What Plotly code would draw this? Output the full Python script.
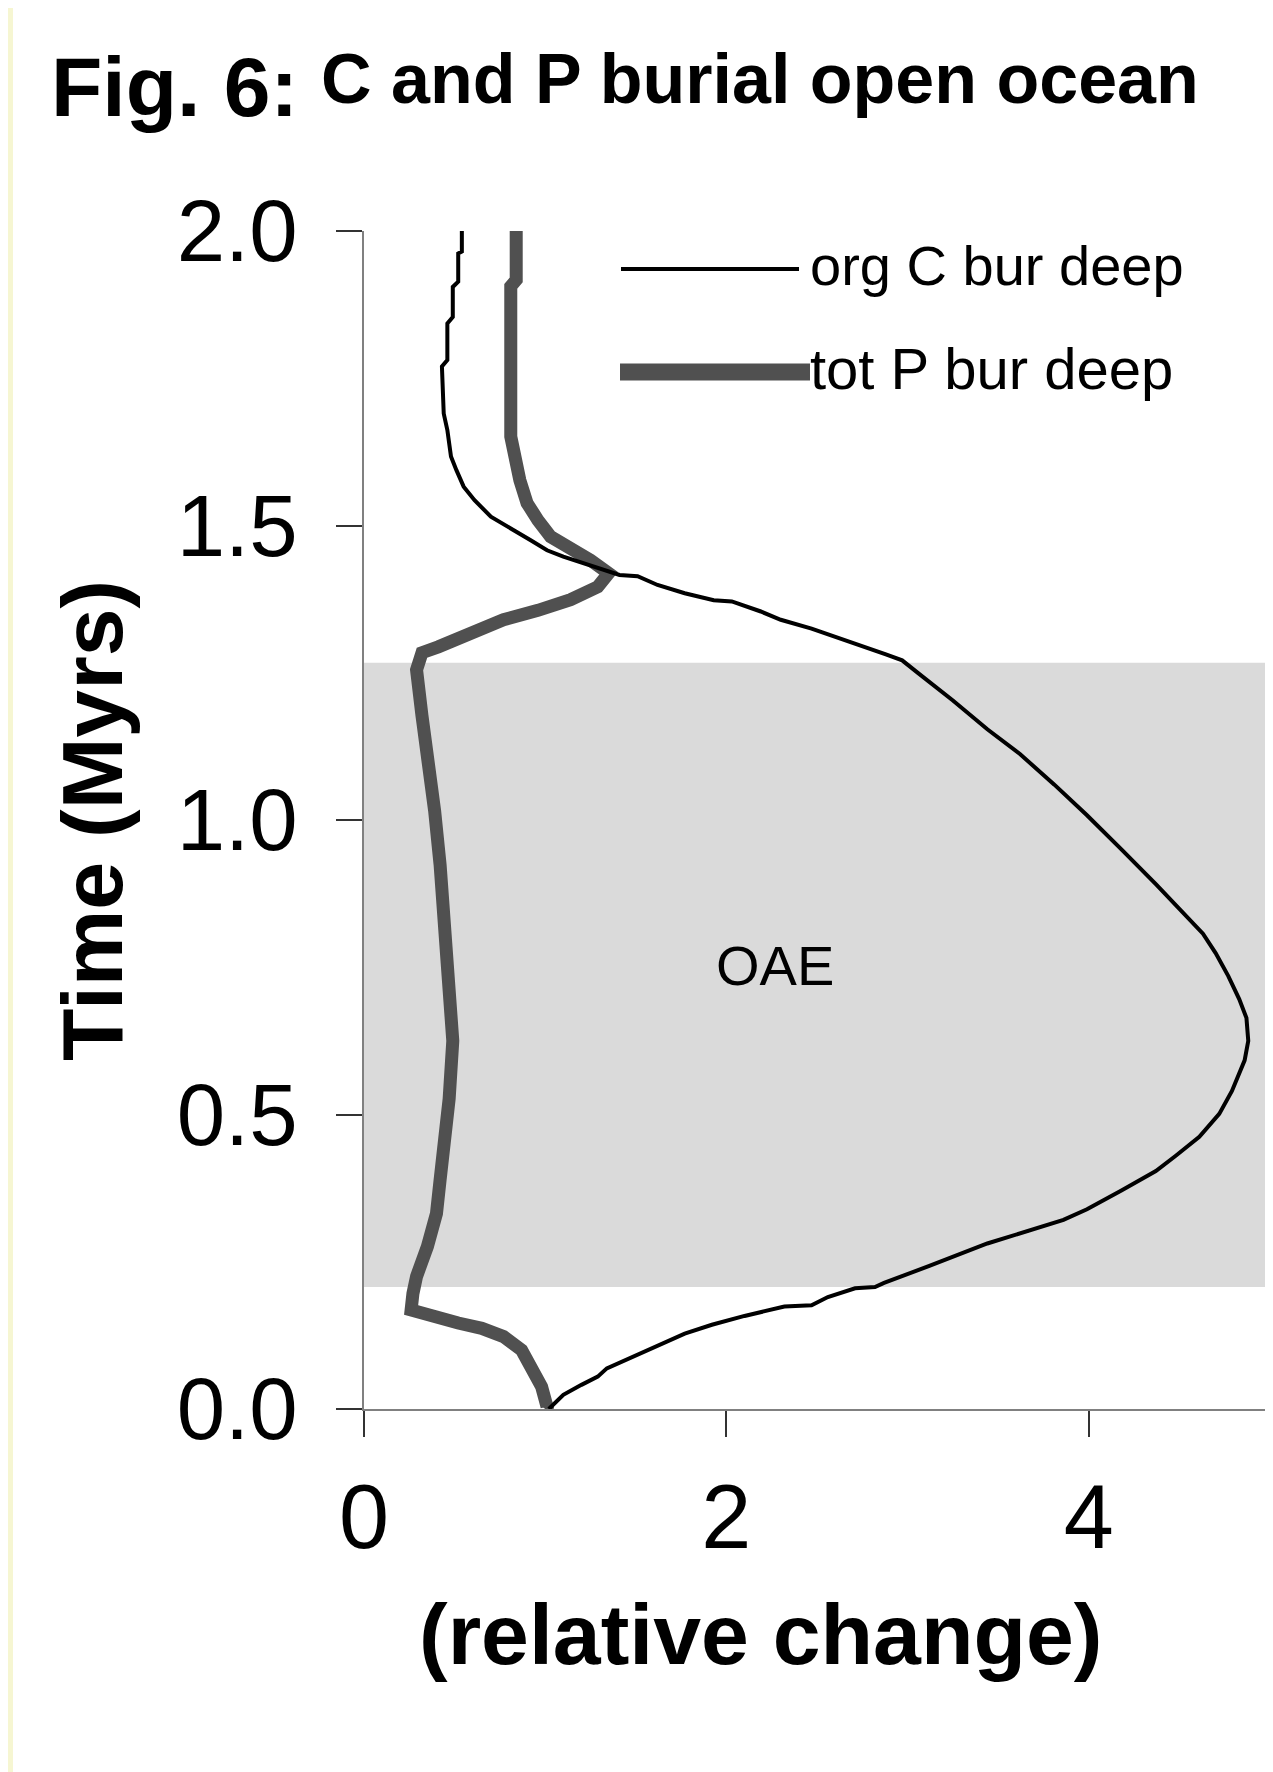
import plotly.graph_objects as go

# ---- data ----
orgC_time = [0.000, 0.024, 0.041, 0.055, 0.069, 0.083, 0.099, 0.114, 0.128, 0.143,
             0.158, 0.174, 0.176, 0.190, 0.205, 0.207, 0.214, 0.243, 0.281, 0.321,
             0.339, 0.371, 0.404, 0.430, 0.462, 0.501, 0.540, 0.592, 0.625, 0.664,
             0.696, 0.735, 0.774, 0.807, 0.846, 0.891, 0.950, 1.008, 1.060, 1.112,
             1.154, 1.203, 1.249, 1.271, 1.281, 1.295, 1.310, 1.325, 1.340, 1.354,
             1.371, 1.373, 1.385, 1.399, 1.414, 1.416, 1.447, 1.458, 1.475, 1.492,
             1.504, 1.515, 1.543, 1.566, 1.594, 1.617, 1.662, 1.690, 1.770, 1.781,
             1.843, 1.854, 1.905, 1.914, 1.962, 1.965, 2.000]
orgC_value = [1.02, 1.10, 1.20, 1.29, 1.34, 1.44, 1.55, 1.66, 1.77, 1.92,
              2.10, 2.32, 2.47, 2.56, 2.71, 2.82, 2.87, 3.12, 3.44, 3.86,
              3.99, 4.18, 4.37, 4.48, 4.61, 4.72, 4.79, 4.86, 4.88, 4.87,
              4.83, 4.77, 4.70, 4.63, 4.51, 4.37, 4.18, 3.99, 3.81, 3.62,
              3.44, 3.25, 3.06, 2.97, 2.88, 2.75, 2.62, 2.47, 2.30, 2.19,
              2.03, 1.93, 1.77, 1.62, 1.51, 1.41, 1.10, 1.01, 0.92, 0.83,
              0.76, 0.70, 0.61, 0.55, 0.51, 0.48, 0.46, 0.44, 0.43, 0.46,
              0.46, 0.49, 0.49, 0.52, 0.52, 0.54, 0.54]

totP_time = [0.000, 0.004, 0.038, 0.072, 0.100, 0.123, 0.137, 0.146, 0.157, 0.168,
             0.196, 0.225, 0.276, 0.332, 0.389, 0.430, 0.527, 0.625, 0.722, 0.833,
             0.924, 1.015, 1.093, 1.177, 1.255, 1.284, 1.294, 1.310, 1.325, 1.340,
             1.356, 1.374, 1.396, 1.419, 1.441, 1.458, 1.481, 1.509, 1.538, 1.577,
             1.623, 1.651, 1.906, 1.917, 2.000]
totP_value = [1.00, 1.01, 0.98, 0.92, 0.87, 0.77, 0.65, 0.52, 0.37, 0.26,
              0.27, 0.29, 0.35, 0.40, 0.42, 0.44, 0.47, 0.49, 0.47, 0.45,
              0.42, 0.39, 0.35, 0.32, 0.29, 0.32, 0.41, 0.55, 0.63, 0.77,
              0.96, 1.14, 1.29, 1.35, 1.25, 1.14, 1.03, 0.96, 0.90, 0.86,
              0.84, 0.81, 0.81, 0.84, 0.84]

oae_start, oae_end = 0.207, 1.267
x_ticks = [0, 2, 4]
y_ticks = [0.0, 0.5, 1.0, 1.5, 2.0]
series_names = ["org C bur deep", "tot P bur deep"]

# ---- layout geometry (pixels) ----
W, H = 1273, 1772
L, R, T, B = 356, 4, 223, 371
PW, PH = W - L - R, H - T - B
XUNIT = 181.2
FONT = "Liberation Sans, Arial, Helvetica, sans-serif"


def px(xp):
    return (xp - L) / PW


def py(yp):
    return (H - B - yp) / PH


fig = go.Figure()
fig.add_trace(go.Scatter(x=totP_value, y=totP_time, mode="lines", name=series_names[1],
                         line=dict(color="#505050", width=13), showlegend=False))
fig.add_trace(go.Scatter(x=orgC_value, y=orgC_time, mode="lines", name=series_names[0],
                         line=dict(color="#000000", width=4), showlegend=False))

shapes = [
    dict(type="rect", xref="paper", yref="y", x0=0.0, x1=1.0, y0=oae_start, y1=oae_end,
         fillcolor="#dadada", line=dict(width=0), layer="below"),
    # legend symbols
    dict(type="line", xref="paper", yref="paper", x0=px(613), x1=px(791), y0=py(261), y1=py(261),
         line=dict(color="#000000", width=4)),
    dict(type="line", xref="paper", yref="paper", x0=px(612), x1=px(802), y0=py(364), y1=py(364),
         line=dict(color="#505050", width=17)),
    # yellowish slide edge on the left
    dict(type="rect", xref="paper", yref="paper", x0=px(0), x1=px(5), y0=py(H), y1=py(0),
         fillcolor="#f6f6d2", line=dict(width=0)),
]

annotations = [
    dict(text="<b>Fig. 6:</b>", x=px(41), y=py(79), xref="paper", yref="paper",
         xanchor="left", yanchor="middle", showarrow=False,
         font=dict(family=FONT, size=84, color="black")),
    dict(text="<b>C and P burial open ocean</b>", x=px(311), y=py(71), xref="paper", yref="paper",
         xanchor="left", yanchor="middle", showarrow=False,
         font=dict(family=FONT, size=70, color="black")),
    dict(text=series_names[0], x=px(800), y=py(257), xref="paper", yref="paper",
         xanchor="left", yanchor="middle", showarrow=False,
         font=dict(family=FONT, size=56, color="black")),
    dict(text=series_names[1], x=px(800), y=py(360), xref="paper", yref="paper",
         xanchor="left", yanchor="middle", showarrow=False,
         font=dict(family=FONT, size=58, color="black")),
    dict(text="OAE", x=px(767), y=py(958), xref="paper", yref="paper",
         xanchor="center", yanchor="middle", showarrow=False,
         font=dict(family=FONT, size=56, color="black")),
    dict(text="<b>Time (Myrs)</b>", x=px(84), y=py(813), xref="paper", yref="paper",
         xanchor="center", yanchor="middle", showarrow=False, textangle=-90,
         font=dict(family=FONT, size=86, color="black")),
    dict(text="<b>(relative change)</b>", x=px(752), y=py(1626), xref="paper", yref="paper",
         xanchor="center", yanchor="middle", showarrow=False,
         font=dict(family=FONT, size=86, color="black")),
]

fig.update_layout(
    width=W, height=H,
    margin=dict(l=L, r=R, t=T, b=B, pad=0),
    paper_bgcolor="white", plot_bgcolor="white",
    showlegend=False,
    shapes=shapes, annotations=annotations,
    xaxis=dict(range=[0, PW / XUNIT], tickvals=x_ticks, ticktext=[str(v) for v in x_ticks],
               showline=True, linecolor="#808080", linewidth=2,
               ticks="outside", ticklen=26, tickwidth=1.5, tickcolor="#333333",
               showgrid=False, zeroline=False, ticklabelstandoff=3,
               tickfont=dict(family=FONT, size=90, color="black")),
    yaxis=dict(range=[0, 2], tickvals=y_ticks, ticktext=[f"{v:.1f}" for v in y_ticks],
               showline=True, linecolor="#808080", linewidth=2,
               ticks="outside", ticklen=26, tickwidth=1.5, tickcolor="#333333",
               showgrid=False, zeroline=False, ticklabelstandoff=21,
               tickfont=dict(family=FONT, size=87, color="black")),
)

fig.write_html("out.html")
